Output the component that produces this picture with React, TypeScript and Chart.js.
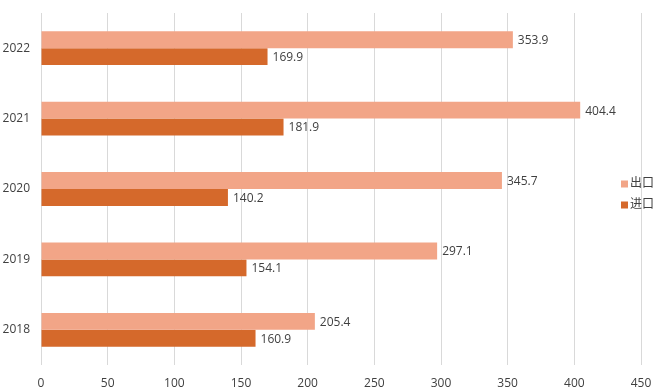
import React, { useEffect, useRef } from "react";
import { Chart, registerables } from "chart.js";

Chart.register(...registerables);

const years = ["2022", "2021", "2020", "2019", "2018"];
const exportValues = [353.9, 404.4, 345.7, 297.1, 205.4];
const importValues = [169.9, 181.9, 140.2, 154.1, 160.9];
const seriesNames = ["出口", "进口"];
const seriesColors = ["#F2A587", "#D5692B"];
const xTicksMax = 450;
const xStep = 50;

const FONT = "'Open Sans', 'Noto Sans CJK SC', sans-serif";
const TEXT = "#404040";

const labelPlugin = {
  id: "valueLabels",
  afterDatasetsDraw(chart: any) {
    const ctx = chart.ctx;
    ctx.save();
    ctx.font = `12px ${FONT}`;
    ctx.fillStyle = TEXT;
    ctx.textAlign = "left";
    ctx.textBaseline = "middle";
    chart.data.datasets.forEach((ds: any, i: number) => {
      const meta = chart.getDatasetMeta(i);
      meta.data.forEach((bar: any, j: number) => {
        ctx.fillText(Number(ds.data[j]).toFixed(1), bar.x + 5, bar.y + 1);
      });
    });
    ctx.restore();
  },
};

const legendPlugin = {
  id: "sideLegend",
  afterDraw(chart: any) {
    const ctx = chart.ctx;
    ctx.save();
    ctx.font = `12px ${FONT}`;
    ctx.textAlign = "left";
    ctx.textBaseline = "middle";
    const x = 621;
    const ys = [184, 205];
    seriesNames.forEach((name, i) => {
      ctx.fillStyle = seriesColors[i];
      ctx.fillRect(x, ys[i] - 3.5, 7, 7);
      ctx.fillStyle = TEXT;
      ctx.fillText(name, x + 9, ys[i]);
    });
    ctx.restore();
  },
};

export default function App() {
  const ref = useRef<HTMLCanvasElement>(null);
  useEffect(() => {
    const chart = new Chart(ref.current!, {
      type: "bar",
      data: {
        labels: years,
        datasets: [
          { label: seriesNames[0], data: exportValues, backgroundColor: seriesColors[0] },
          { label: seriesNames[1], data: importValues, backgroundColor: seriesColors[1] },
        ],
      },
      options: {
        indexAxis: "y",
        animation: false,
        responsive: false,
        maintainAspectRatio: false,
        layout: { padding: { top: 13, right: 19, bottom: 0, left: 0 } },
        datasets: { bar: { barPercentage: 1, categoryPercentage: 0.48 } },
        plugins: { legend: { display: false }, tooltip: { enabled: false } },
        scales: {
          x: {
            position: "bottom",
            min: 0,
            max: xTicksMax,
            afterFit: (s: any) => { s.height = 26; s.paddingLeft = 0; s.paddingRight = 0; },
            ticks: { stepSize: xStep, color: TEXT, font: { size: 12, family: FONT }, padding: 11 },
            grid: { color: "#D9D9D9", drawTicks: false },
            border: { display: false },
          },
          y: {
            position: "left",
            afterFit: (s: any) => { s.width = 41; s.paddingTop = 0; s.paddingBottom = 0; },
            ticks: { color: TEXT, font: { size: 12, family: FONT }, padding: 11 },
            grid: { display: false, drawTicks: false },
            border: { display: false },
          },
        },
      },
      plugins: [labelPlugin, legendPlugin],
    });
    return () => chart.destroy();
  }, []);
  return (
    <div style={{ position: "fixed", left: 0, top: 0, width: 660, height: 391, background: "#fff" }}>
      <canvas ref={ref} width={660} height={391} />
    </div>
  );
}
